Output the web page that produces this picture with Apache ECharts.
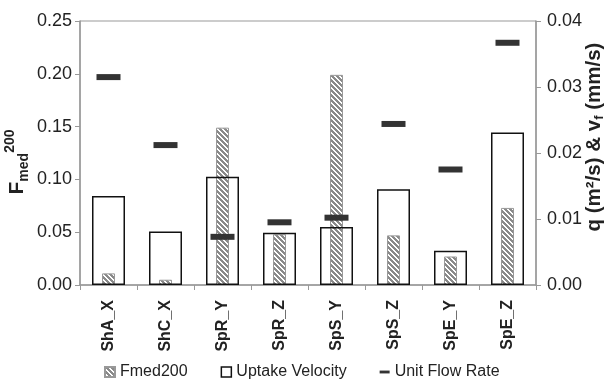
<!DOCTYPE html>
<html>
<head>
<meta charset="utf-8">
<script src="https://cdn.jsdelivr.net/npm/echarts@6/dist/echarts.min.js"></script>
<style>
  html, body { margin: 0; padding: 0; background: #fff; }
</style>
</head>
<body>
<div id="chart" style="width:608px; height:379px;"></div>
<script>
const categories = ["ShA_X", "ShC_X", "SpR_Y", "SpR_Z", "SpS_Y", "SpS_Z", "SpE_Y", "SpE_Z"]
const fmed200 = [0.011, 0.005, 0.149, 0.048, 0.199, 0.047, 0.027, 0.073]
const uptakeVelocity = [0.0135, 0.0081, 0.0164, 0.0079, 0.0088, 0.0145, 0.0052, 0.0231]
const unitFlowRate = [0.0315, 0.0212, 0.0073, 0.0095, 0.0102, 0.0244, 0.0175, 0.0367]

const FONT = "'Liberation Sans', Arial, sans-serif"

// diagonal hatch for the Fmed200 bars
function hatch(){
    let n = 5
    let c = document.createElement("canvas")
    c.width = n
    c.height = n
    let ctx = c.getContext("2d")
    ctx.fillStyle = "#fff"
    ctx.fillRect(0, 0, n, n)
    ctx.fillStyle = "#8a8a8a"
    for (let i = 0; i < n; i++){
        ctx.fillRect(i, i, 1, 1)
        ctx.fillRect((i + 1) % n, i, 1, 1)
        ctx.fillRect((i + 2) % n, i, 1, 1)
    }
    return c
}

let myChart = echarts.init(document.getElementById("chart"), null, { renderer: "canvas" })

let option = {
    animation: false,
    textStyle: { fontFamily: FONT },
    grid: {
        left: 80,
        right: 72,
        top: 21,
        bottom: 94,
        show: true,
        borderColor: "#999",
        borderWidth: 1
    },
    legend: {
        left: 99,
        top: 359,
        itemWidth: 10,
        itemHeight: 10,
        itemGap: 33,
        textStyle: { fontSize: 16, color: "#222", fontFamily: FONT },
        data: [
            { name: "Fmed200", icon: "rect" },
            { name: "Uptake Velocity", icon: "rect", itemStyle: { color: "#fff", borderColor: "#111", borderWidth: 1.5 } },
            { name: "Unit Flow Rate", icon: "path://M0,0H14V4H0Z" }
        ]
    },
    xAxis: [
        {
            type: "category",
            data: categories,
            axisLine: { lineStyle: { color: "#999", width: 1.5 } },
            axisTick: { show: true, length: 5, lineStyle: { color: "#999" } },
            axisLabel: {
                rotate: 90,
                margin: 15,
                fontSize: 16,
                fontWeight: "bold",
                color: "#222",
                fontFamily: FONT
            }
        },
        {
            type: "category",
            data: categories,
            show: false
        }
    ],
    yAxis: [
        {
            type: "value",
            min: 0,
            max: 0.25,
            interval: 0.05,
            axisLine: { show: true, lineStyle: { color: "#999", width: 1.5 } },
            axisTick: { show: true, length: 5, lineStyle: { color: "#999" } },
            splitLine: { show: false },
            axisLabel: {
                margin: 8,
                fontSize: 18,
                color: "#222",
                fontFamily: FONT,
                formatter: v => v.toFixed(2)
            }
        },
        {
            type: "value",
            position: "right",
            min: 0,
            max: 0.04,
            interval: 0.01,
            axisLine: { show: true, lineStyle: { color: "#999", width: 1.5 } },
            axisTick: { show: true, length: 5, lineStyle: { color: "#999" } },
            splitLine: { show: false },
            axisLabel: {
                margin: 11,
                fontSize: 18,
                color: "#222",
                fontFamily: FONT,
                formatter: v => v.toFixed(2)
            }
        }
    ],
    graphic: [
        {
            type: "text",
            x: 17,
            y: 162,
            rotation: Math.PI / 2,
            style: {
                text: "{F|F}{s|med}{p|200}",
                align: "center",
                verticalAlign: "middle",
                fill: "#222",
                rich: {
                    F: { fontSize: 21, fontWeight: "bold", lineHeight: 28, fontFamily: FONT, fill: "#222" },
                    s: { fontSize: 14, fontWeight: "bold", lineHeight: 13, verticalAlign: "bottom", fontFamily: FONT, fill: "#222" },
                    p: { fontSize: 14, fontWeight: "bold", lineHeight: 13, verticalAlign: "top", fontFamily: FONT, fill: "#222" }
                }
            }
        },
        {
            type: "text",
            x: 594,
            y: 137,
            rotation: Math.PI / 2,
            style: {
                text: "{t|q (m²/s) & v}{s|f}{t| (mm/s)}",
                align: "center",
                verticalAlign: "middle",
                fill: "#222",
                rich: {
                    t: { fontSize: 20.5, fontWeight: "bold", lineHeight: 24, fontFamily: FONT, fill: "#222" },
                    s: { fontSize: 13, fontWeight: "bold", lineHeight: 12, verticalAlign: "bottom", fontFamily: FONT, fill: "#222" }
                }
            }
        }
    ],
    series: [
        {
            name: "Fmed200",
            type: "bar",
            xAxisIndex: 1,
            yAxisIndex: 0,
            barWidth: 13,
            z: 2,
            itemStyle: {
                color: { image: hatch(), repeat: "repeat" },
                borderColor: "#999",
                borderWidth: 1
            },
            data: fmed200
        },
        {
            name: "Uptake Velocity",
            type: "bar",
            xAxisIndex: 0,
            yAxisIndex: 1,
            barWidth: 33,
            z: 3,
            itemStyle: {
                color: "rgba(255,255,255,0)",
                borderColor: "#111",
                borderWidth: 1.5
            },
            data: uptakeVelocity
        },
        {
            name: "Unit Flow Rate",
            type: "scatter",
            xAxisIndex: 0,
            yAxisIndex: 1,
            symbol: "rect",
            symbolSize: [24, 6],
            z: 4,
            itemStyle: { color: "#333", opacity: 1 },
            data: unitFlowRate
        }
    ]
}
myChart.setOption(option)
</script>
</body>
</html>
